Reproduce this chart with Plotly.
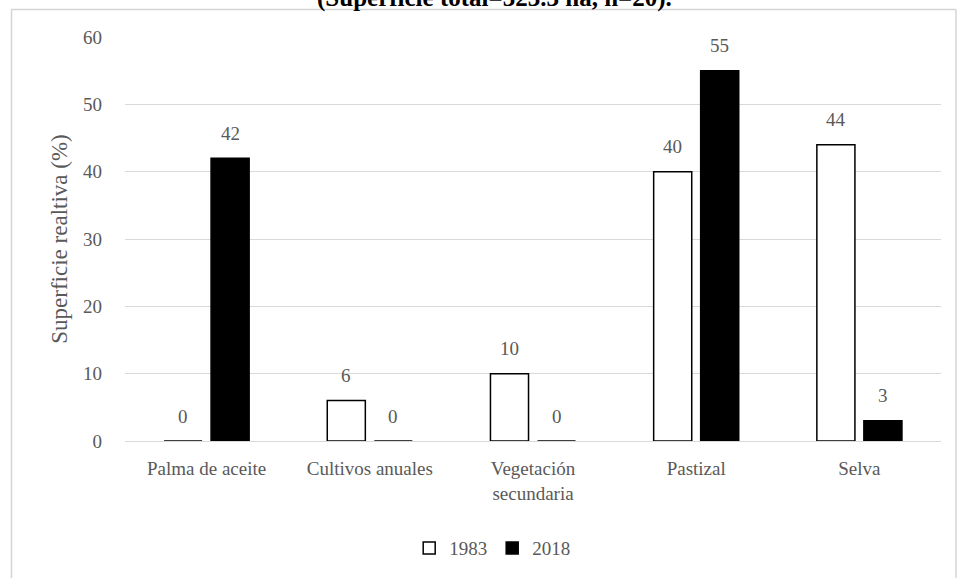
import plotly.graph_objects as go

categories = ["Palma de aceite", "Cultivos anuales", "Vegetación<br>secundaria", "Pastizal", "Selva"]
years = ["1983", "2018"]
values_1983 = [0, 6, 10, 40, 44]
values_2018 = [42, 0, 0, 55, 3]
y_ticks = [0, 10, 20, 30, 40, 50, 60]
title_text = "(Superficie total=323.3 ha, n=20)."
y_title = "Superficie realtiva (%)"

FONT = "Liberation Serif"
GRAY = "#595959"
FS = 19

fig = go.Figure()
fig.add_trace(go.Bar(
    x=categories, y=values_1983, name=years[0],
    marker=dict(color="white", line=dict(color="black", width=1.5)),
))
fig.add_trace(go.Bar(
    x=categories, y=values_2018, name=years[1],
    marker=dict(color="black", line=dict(color="black", width=1.5)),
))

# data labels
annotations = []
for series, shift in ((values_1983, -23.5), (values_2018, 23.5)):
    for c, v in zip(categories, series):
        annotations.append(dict(
            x=c, y=v, xref="x", yref="y", text=str(v), showarrow=False,
            xshift=shift, yshift=25, yanchor="middle",
            font=dict(family=FONT, size=FS, color=GRAY),
        ))

annotations.append(dict(
    x=0.453, y=1.097, xref="paper", yref="paper", text=title_text,
    showarrow=False, yanchor="middle", xanchor="center",
    font=dict(family=FONT, size=25, color="black", weight="bold"),
))

# outer chart-area frame (kept inside the page)
x_left = (11.5 - 125) / 816
x_right = (956 - 125) / 816
y_top = (441 - 9.5) / 404
y_bottom = (441 - 578) / 404
frame = dict(color="#d4d4d4", width=1.5)

fig.update_layout(
    width=958, height=579,
    margin=dict(l=125, r=17, t=37, b=138),
    paper_bgcolor="white", plot_bgcolor="white",
    barmode="group", bargap=0.424, bargroupgap=0.19,
    font=dict(family=FONT, size=FS, color=GRAY),
    showlegend=True,
    legend=dict(
        orientation="h", x=0.45, xanchor="center", y=-0.265, yanchor="middle",
        font=dict(family=FONT, size=FS, color=GRAY),
        traceorder="normal", itemwidth=30,
    ),
    annotations=annotations,
    shapes=[
        dict(type="line", xref="paper", yref="paper", x0=x_left, x1=x_left, y0=y_bottom, y1=y_top, line=frame),
        dict(type="line", xref="paper", yref="paper", x0=x_left, x1=x_right, y0=y_top, y1=y_top, line=frame),
        dict(type="line", xref="paper", yref="paper", x0=x_right, x1=x_right, y0=y_bottom, y1=y_top, line=frame),
    ],
)
fig.update_xaxes(
    showline=True, linecolor="#d9d9d9", linewidth=1,
    showgrid=False, ticks="", ticklabelstandoff=10,
    tickfont=dict(family=FONT, size=FS, color=GRAY),
)
fig.update_yaxes(
    range=[0, 60], tickvals=y_ticks, showgrid=True, gridcolor="#d9d9d9", gridwidth=1,
    zeroline=False, showline=False, ticks="", ticklabelstandoff=22,
    tickfont=dict(family=FONT, size=FS, color=GRAY),
    title_text=y_title, title_standoff=8,
    title_font=dict(family=FONT, size=23, color=GRAY),
)

fig.write_html("out.html")
